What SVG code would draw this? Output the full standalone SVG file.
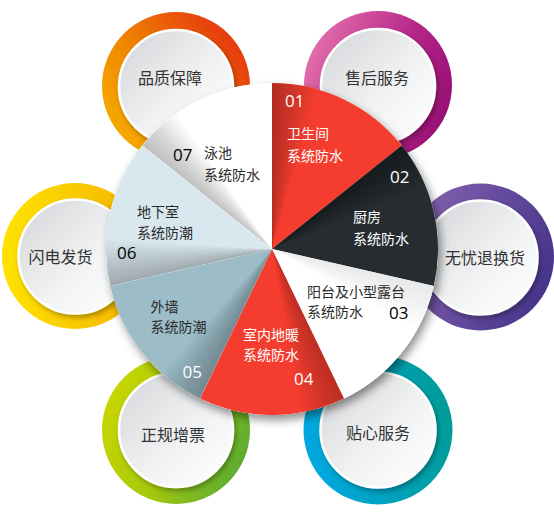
<svg xmlns="http://www.w3.org/2000/svg" xmlns:xlink="http://www.w3.org/1999/xlink" width="554" height="518" viewBox="0 0 554 518">
<defs>
<style>
.lbl{font-family:"Noto Sans CJK SC","Noto Sans",sans-serif;font-size:16px;fill:#333;text-anchor:middle}
.t{font-family:"Noto Sans CJK SC","Noto Sans",sans-serif;font-size:14px}
.n{font-family:"Open Sans","Noto Sans",sans-serif;font-size:17px;font-weight:400}
.w{fill:#ffffff}
.d{fill:#2a2a2a}
.k{fill:#000000}
.disc{fill:url(#discG);stroke:#ffffff;stroke-width:2.5;filter:url(#discSh)}
</style>
<linearGradient id="discG" x1="0" y1="0" x2="1" y2="1">
<stop offset="0" stop-color="#d2d5d8"/><stop offset="0.6" stop-color="#f3f4f5"/><stop offset="1" stop-color="#ffffff"/>
</linearGradient>
<linearGradient id="gA" x1="0" y1="1" x2="1" y2="0.2"><stop offset="0" stop-color="#f8b800"/><stop offset="0.45" stop-color="#f08a00"/><stop offset="1" stop-color="#e5300f"/></linearGradient>
<linearGradient id="gB" x1="0" y1="0.3" x2="1" y2="0.7"><stop offset="0" stop-color="#e470ac"/><stop offset="0.6" stop-color="#b52588"/><stop offset="1" stop-color="#960e74"/></linearGradient>
<linearGradient id="gC" x1="0" y1="0.3" x2="1" y2="0.7"><stop offset="0" stop-color="#8462ae"/><stop offset="1" stop-color="#45338a"/></linearGradient>
<linearGradient id="gD" x1="0" y1="0.5" x2="1" y2="0.5"><stop offset="0" stop-color="#ffe300"/><stop offset="1" stop-color="#f4b200"/></linearGradient>
<linearGradient id="gE" x1="0" y1="0.3" x2="1" y2="0.7"><stop offset="0" stop-color="#cad600"/><stop offset="0.5" stop-color="#a6c80c"/><stop offset="1" stop-color="#57aa35"/></linearGradient>
<linearGradient id="gF" x1="0" y1="0.6" x2="1" y2="0.4"><stop offset="0" stop-color="#00a8e2"/><stop offset="1" stop-color="#009c97"/></linearGradient>
<filter id="discSh" x="-30%" y="-30%" width="160%" height="160%">
<feDropShadow dx="2" dy="3" stdDeviation="2.5" flood-color="#000" flood-opacity="0.3"/>
</filter>
<filter id="pieSh" x="-20%" y="-20%" width="140%" height="140%">
<feDropShadow dx="3" dy="5" stdDeviation="5" flood-color="#000" flood-opacity="0.45"/>
</filter>
<g id="sh" fill="#000" fill-opacity="0.025">
<path d="M0,0 L0,-166 A166,166 0 0 1 2.897,-165.975 Z"/>
<path d="M0,0 L0,-166 A166,166 0 0 1 5.793,-165.899 Z"/>
<path d="M0,0 L0,-166 A166,166 0 0 1 8.688,-165.773 Z"/>
<path d="M0,0 L0,-166 A166,166 0 0 1 11.580,-165.596 Z"/>
<path d="M0,0 L0,-166 A166,166 0 0 1 14.468,-165.368 Z"/>
<path d="M0,0 L0,-166 A166,166 0 0 1 17.352,-165.091 Z"/>
<path d="M0,0 L0,-166 A166,166 0 0 1 20.230,-164.763 Z"/>
<path d="M0,0 L0,-166 A166,166 0 0 1 23.103,-164.384 Z"/>
<path d="M0,0 L0,-166 A166,166 0 0 1 25.968,-163.956 Z"/>
<path d="M0,0 L0,-166 A166,166 0 0 1 28.826,-163.478 Z"/>
<path d="M0,0 L0,-166 A166,166 0 0 1 31.674,-162.950 Z"/>
<path d="M0,0 L0,-166 A166,166 0 0 1 34.513,-162.372 Z"/>
<path d="M0,0 L0,-166 A166,166 0 0 1 37.342,-161.745 Z"/>
<path d="M0,0 L0,-166 A166,166 0 0 1 40.159,-161.068 Z"/>
<path d="M0,0 L0,-166 A166,166 0 0 1 42.964,-160.344 Z"/>
<path d="M0,0 L0,-166 A166,166 0 0 1 45.752,-159.578 Z"/>
</g>
</defs>
<rect width="554" height="518" fill="#ffffff"/>

<g id="node-quality">
<circle cx="176" cy="86" r="74" fill="url(#gA)"/>
<circle class="disc" cx="176" cy="87" r="57"/>
<text class="lbl" x="170" y="83.5">品质保障</text>
</g>
<g id="node-aftersales">
<circle cx="378" cy="85" r="74" fill="url(#gB)"/>
<circle class="disc" cx="378" cy="86" r="57"/>
<text class="lbl" x="377" y="83.5">售后服务</text>
</g>
<g id="node-return">
<circle cx="480.5" cy="257" r="73.5" fill="url(#gC)"/>
<circle class="disc" cx="480.5" cy="257.5" r="57"/>
<text class="lbl" x="485" y="264">无忧退换货</text>
</g>
<g id="node-delivery">
<circle cx="75" cy="256" r="73" fill="url(#gD)"/>
<circle class="disc" cx="75.5" cy="256.5" r="57"/>
<text class="lbl" x="60.5" y="263">闪电发货</text>
</g>
<g id="node-invoice">
<circle cx="176" cy="430" r="74" fill="url(#gE)"/>
<circle class="disc" cx="176" cy="430" r="57"/>
<text class="lbl" x="173" y="441">正规增票</text>
</g>
<g id="node-service">
<circle cx="378" cy="430" r="74.5" fill="url(#gF)"/>
<circle class="disc" cx="378" cy="430" r="57.5"/>
<text class="lbl" x="378" y="439">贴心服务</text>
</g>

<circle cx="272" cy="249" r="166" fill="#ffffff" filter="url(#pieSh)"/>

<g id="slice-01">
<path d="M272,249 L272,83 A166,166 0 0 1 401.8,145.5 Z" fill="#f53d2f"/>
<use xlink:href="#sh" href="#sh" transform="translate(272,249) rotate(0)" opacity="0.9"/>
<text class="n w" x="285" y="107">01</text>
<text class="t w" x="287" y="138.5">卫生间</text>
<text class="t w" x="287" y="160.5">系统防水</text>
</g>
<g id="slice-02">
<path d="M272,249 L401.8,145.5 A166,166 0 0 1 433.8,285.9 Z" fill="#262c30"/>
<use xlink:href="#sh" href="#sh" transform="translate(272,249) rotate(51.4286)"/>
<text class="n w" x="390" y="183">02</text>
<text class="t w" x="353" y="222">厨房</text>
<text class="t w" x="353" y="243.5">系统防水</text>
</g>
<g id="slice-03">
<path d="M272,249 L433.8,285.9 A166,166 0 0 1 344.0,398.6 Z" fill="#ffffff"/>
<use xlink:href="#sh" href="#sh" transform="translate(272,249) rotate(102.857)" opacity="0.3"/>
<text class="t d" x="307" y="297">阳台及小型露台</text>
<text class="t d" x="307" y="317">系统防水</text>
<text class="n k" x="389" y="318.5">03</text>
</g>
<g id="slice-04">
<path d="M272,249 L344.0,398.6 A166,166 0 0 1 200.0,398.6 Z" fill="#f53d2f"/>
<use xlink:href="#sh" href="#sh" transform="translate(272,249) rotate(154.286)" opacity="0.8"/>
<text class="t w" x="243" y="340">室内地暖</text>
<text class="t w" x="243" y="360">系统防水</text>
<text class="n w" x="294" y="384.5">04</text>
</g>
<g id="slice-05">
<path d="M272,249 L200.0,398.6 A166,166 0 0 1 110.2,285.9 Z" fill="#9cbcc7"/>
<use xlink:href="#sh" href="#sh" transform="translate(272,249) rotate(205.714)" opacity="0.9"/>
<text class="t d" x="150.5" y="312">外墙</text>
<text class="t d" x="150.5" y="332">系统防潮</text>
<text class="n w" x="182.5" y="377.5">05</text>
</g>
<g id="slice-06">
<path d="M272,249 L110.2,285.9 A166,166 0 0 1 142.2,145.5 Z" fill="#d9e8ee"/>
<use xlink:href="#sh" href="#sh" transform="translate(272,249) rotate(257.143)" opacity="0.9"/>
<text class="t d" x="137" y="217">地下室</text>
<text class="t d" x="137" y="238">系统防潮</text>
<text class="n k" x="117" y="259">06</text>
</g>
<g id="slice-07">
<path d="M272,249 L142.2,145.5 A166,166 0 0 1 272,83 Z" fill="#ffffff"/>
<use xlink:href="#sh" href="#sh" transform="translate(272,249) rotate(308.571)" opacity="0.85"/>
<text class="n k" x="173" y="161">07</text>
<text class="t d" x="204" y="158">泳池</text>
<text class="t d" x="204" y="180">系统防水</text>
</g>

<g id="connectors"/>
</svg>
